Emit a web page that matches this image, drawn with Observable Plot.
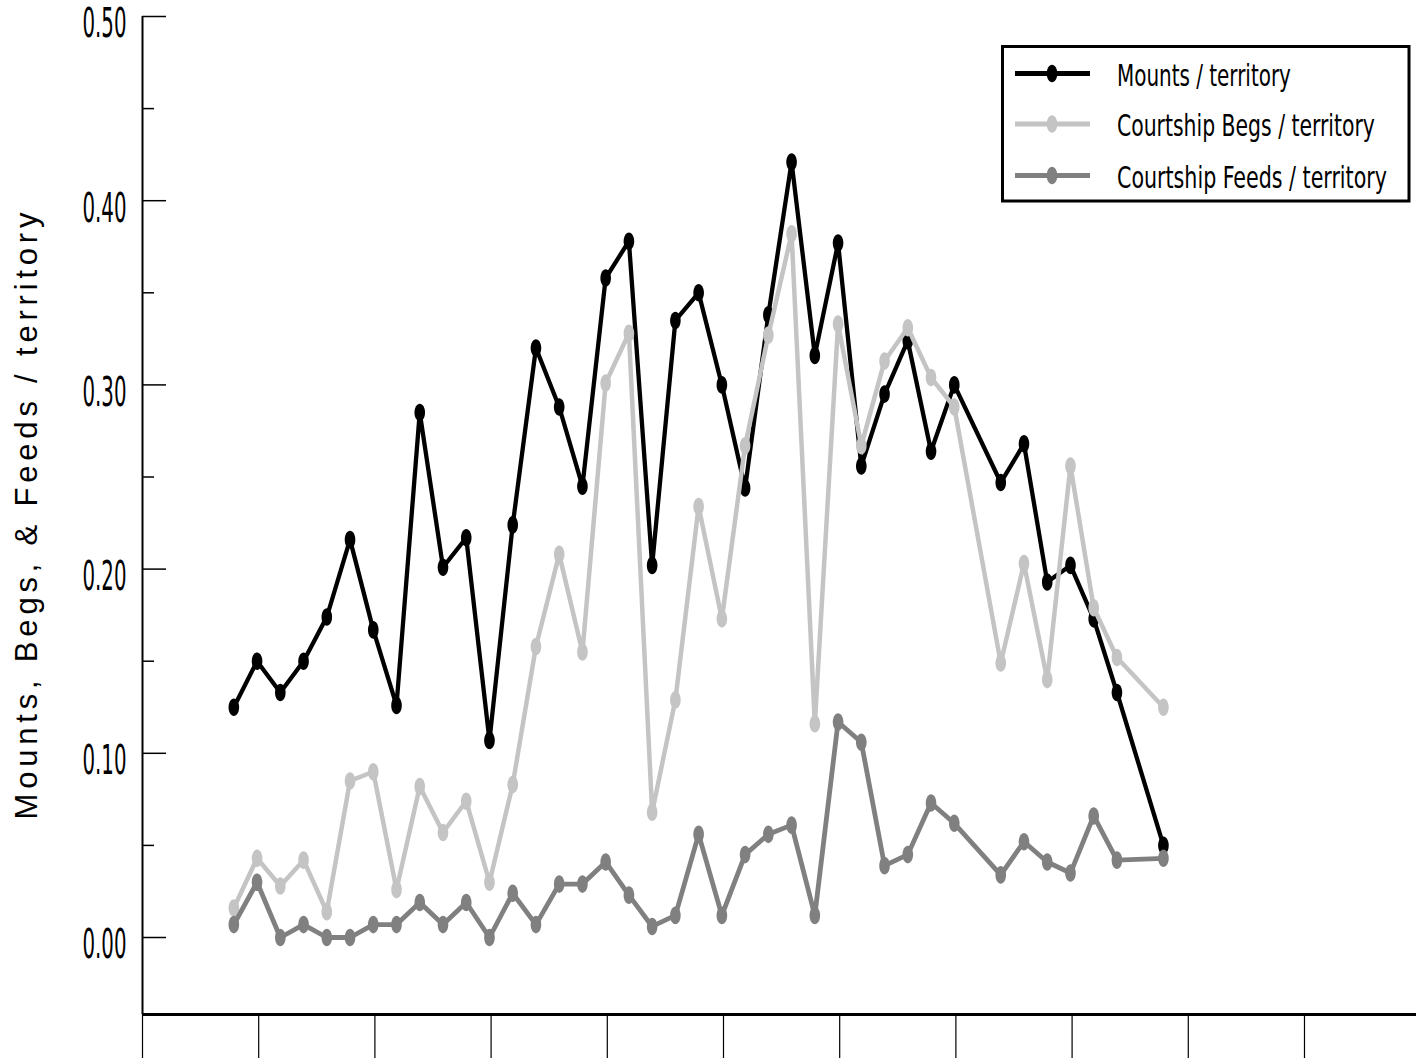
<!DOCTYPE html>
<html><head><meta charset="utf-8">
<script src="https://cdn.jsdelivr.net/npm/d3@7"></script>
<script src="https://cdn.jsdelivr.net/npm/@observablehq/plot@0.6"></script>
<style>body{margin:0;background:#fff} #chart svg{display:block}</style>
</head><body><div id="chart"></div>
<script>
// ---- data ----
const days = [0,1,2,3,4,5,6,7,8,9,10,11,12,13,14,15,16,17,18,19,20,21,22,23,24,25,26,27,28,29,30,31,32,33,34,35,36,37,38,39,40];
const mounts = [0.125,0.150,0.133,0.150,0.174,0.216,0.167,0.126,0.285,0.201,0.217,0.107,0.224,0.320,0.288,0.245,0.358,0.378,0.202,0.335,0.350,0.300,0.244,0.338,0.421,0.316,0.377,0.256,0.295,0.324,0.264,0.300,null,0.247,0.268,0.193,0.202,0.173,0.133,null,0.050];
const begs = [0.016,0.043,0.028,0.042,0.014,0.085,0.090,0.026,0.082,0.057,0.074,0.030,0.083,0.158,0.208,0.155,0.301,0.328,0.068,0.129,0.234,0.173,0.267,0.327,0.382,0.116,0.333,0.267,0.313,0.331,0.304,0.288,null,0.149,0.203,0.140,0.256,0.179,0.152,null,0.125];
const feeds = [0.007,0.030,0.000,0.007,0.000,0.000,0.007,0.007,0.019,0.007,0.019,0.000,0.024,0.007,0.029,0.029,0.041,0.023,0.006,0.012,0.056,0.012,0.045,0.056,0.061,0.012,0.117,0.106,0.039,0.045,0.073,0.062,null,0.034,0.052,0.041,0.035,0.066,0.042,null,0.043];
const seriesNames = ["Mounts / territory", "Courtship Begs / territory", "Courtship Feeds / territory"];
const seriesColors = ["#000000", "#c4c4c4", "#808080"];
const yMajor = [0, 0.1, 0.2, 0.3, 0.4, 0.5];
const yMinor = [0.05, 0.15, 0.25, 0.35, 0.45];
const yLabels = ["0.00", "0.10", "0.20", "0.30", "0.40", "0.50"];
const xTicks = [-3.93, 1.07, 6.07, 11.07, 16.07, 21.07, 26.07, 31.07, 36.07, 41.07, 46.07];
const yTitle = "Mounts, Begs, & Feeds / territory";

// ---- build table ----
const rows = [];
[mounts, begs, feeds].forEach((vals, s) => vals.forEach((v, i) => {
  if (v != null) rows.push({series: seriesNames[s], day: days[i], value: v});
}));

// vertically elongated ellipse marker
const ellipse = {draw(ctx) {
  const a = 5.3, b = 8.8, k = 0.5523;
  ctx.moveTo(a, 0);
  ctx.bezierCurveTo(a, b * k, a * k, b, 0, b);
  ctx.bezierCurveTo(-a * k, b, -a, b * k, -a, 0);
  ctx.bezierCurveTo(-a, -b * k, -a * k, -b, 0, -b);
  ctx.bezierCurveTo(a * k, -b, a, -b * k, a, 0);
  ctx.closePath();
}};

const W = 1416, H = 1062, mL = 142, mT = 16, mB = 48;
const xDom = [-3.93, 50.89], yDom = [-0.0418, 0.5];
const narrow = "'Liberation Sans Narrow', 'DejaVu Sans Condensed', 'Arial Narrow', sans-serif";
const widths = [4.3, 4.5, 4.8];

const chart = Plot.plot({
  width: W, height: H,
  marginLeft: mL, marginRight: 0, marginTop: mT, marginBottom: mB,
  x: {domain: xDom, axis: null},
  y: {domain: yDom, axis: null},
  style: {background: "#fff", overflow: "visible"},
  marks: [
    ...seriesNames.flatMap((name, s) => {
      const d = rows.filter(r => r.series === name);
      return [
        Plot.line(d, {x: "day", y: "value", stroke: seriesColors[s], strokeWidth: widths[s], strokeLinejoin: "round"}),
        Plot.dot(d, {x: "day", y: "value", fill: seriesColors[s], symbol: ellipse, r: 5})
      ];
    }),
    Plot.tickY(yMajor, {y: d => d, insetRight: W - mL - 24, stroke: "#000", strokeWidth: 1.5}),
    Plot.tickY(yMinor, {y: d => d, insetRight: W - mL - 12, stroke: "#000", strokeWidth: 1.5}),
    Plot.axisY(yMajor, {tickSize: 0, tickPadding: 16, label: null, tickFormat: d => yLabels[yMajor.indexOf(d)], fontSize: 40, fontFamily: narrow, dy: 8}),
    Plot.axisX(xTicks, {tickSize: 44, label: null, tickFormat: () => "", strokeWidth: 1.2}),
    Plot.ruleX([xDom[0]], {stroke: "#000", strokeWidth: 2}),
    Plot.ruleY([yDom[0]], {stroke: "#000", strokeWidth: 3})
  ]
});
document.getElementById("chart").append(chart);

const svg = d3.select(chart);
svg.selectAll('g[aria-label="y-axis tick label"] text')
  .attr("textLength", 44).attr("lengthAdjust", "spacingAndGlyphs").attr("fill", "#000");

// y axis title
svg.append("text")
  .attr("transform", "translate(37,516) rotate(-90)")
  .attr("text-anchor", "middle")
  .attr("font-family", "'Liberation Sans', Arial, Helvetica, sans-serif")
  .attr("font-size", 31)
  .attr("textLength", 607).attr("lengthAdjust", "spacing")
  .attr("fill", "#000")
  .text(yTitle);

// legend
const lg = svg.append("g").attr("class", "legend").attr("text-anchor", "start");
lg.append("rect").attr("x", 1002.5).attr("y", 46.5).attr("width", 406.5).attr("height", 154.5)
  .attr("fill", "#fff").attr("stroke", "#000").attr("stroke-width", 3);
const rowY = [73.5, 124, 175.5];
const textLen = [174, 258, 270];
const sym = d3.symbol(ellipse)();
seriesNames.forEach((name, s) => {
  lg.append("line").attr("x1", 1015).attr("x2", 1090).attr("y1", rowY[s]).attr("y2", rowY[s])
    .attr("stroke", seriesColors[s]).attr("stroke-width", 5);
  lg.append("path").attr("d", sym).attr("transform", `translate(1052,${rowY[s]})`).attr("fill", seriesColors[s]);
  const t = lg.append("text").attr("x", 0).attr("y", 0)
    .attr("text-anchor", "start")
    .attr("font-family", narrow).attr("font-size", 31)
    .attr("fill", "#000").text(name);
  const natural = t.node().getComputedTextLength() || textLen[s];
  t.attr("transform", `translate(1117,${rowY[s] + 12}) scale(${textLen[s] / natural},1)`);
});
</script>
</body></html>
